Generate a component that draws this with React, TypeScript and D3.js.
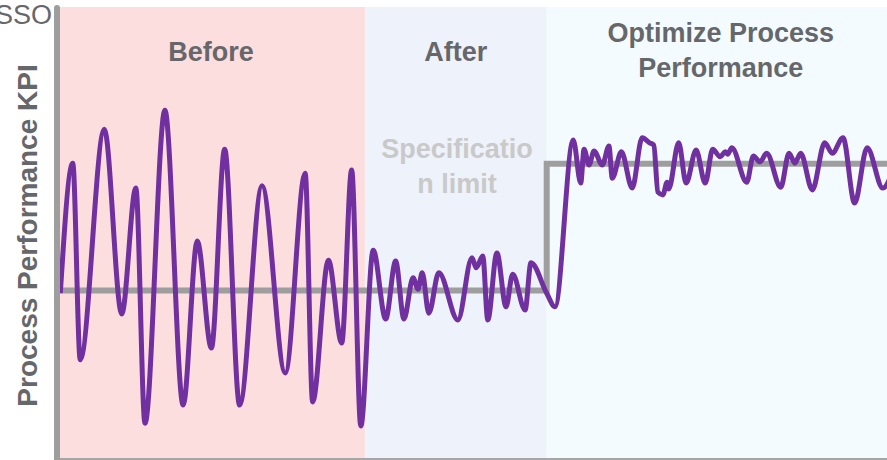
import React from "react";
import * as d3 from "d3";

const W = 887;
const H = 460;

// Phases along the time axis (0..100)
const phaseNames = ["Before", "After", "Optimize Process Performance"];
const phaseStarts = [0, 37.1, 59.0];
const phaseEnds = [37.1, 59.0, 100];
const phaseColors = ["#fddede", "#eef2fa", "#f4fbfe"];

// Specification limit (step)
const specX = [0, 59.0, 59.0, 100];
const specY = [37.2, 37.2, 65.2, 65.2];

// Process KPI series
const kpiT = [
  0.4, 1.9, 2.8, 5.7, 7.8, 9.5, 10.6, 13.0, 15.2, 16.9, 18.6, 20.2, 22.0, 24.7, 27.5, 29.9, 30.8, 32.7, 34.3, 35.5, 36.6,
  38.1, 39.6, 40.8, 41.8, 42.9, 43.5, 44.0, 44.8, 46.0, 48.3, 50.0, 50.5, 51.3, 51.9, 53.0, 54.1, 54.9, 56.4, 57.1, 59.0, 60.0,
  62.2, 63.1, 63.5, 64.1, 64.7, 65.7, 66.5, 66.9, 68.0, 69.3, 70.5, 71.4, 71.9, 72.4, 73.0, 73.5, 73.7, 74.9, 75.8, 77.0,
  78.1, 79.0, 79.9, 80.5, 80.8, 81.3, 83.1, 83.9, 84.7, 85.5, 87.2, 88.2, 88.9, 89.6, 91.0, 92.5, 93.4, 94.7, 96.1, 97.6,
  99.5, 100.6,
];
const kpiV = [
  36.6, 65.3, 21.9, 72.8, 32.0, 59.8, 7.9, 77.0, 11.9, 48.1, 24.5, 68.4, 11.9, 60.3, 19.0, 63.1, 12.6, 43.9, 25.6, 63.8, 7.3,
  46.1, 30.9, 43.7, 30.9, 40.0, 37.5, 41.1, 32.2, 41.1, 30.7, 44.4, 42.2, 44.8, 30.7, 45.5, 33.6, 40.8, 32.9, 43.3, 36.6, 33.6,
  70.4, 60.9, 68.4, 64.9, 68.0, 64.9, 69.1, 62.0, 67.8, 59.8, 70.9, 69.8, 69.3, 58.9, 58.3, 61.1, 59.6, 69.8, 60.9, 68.2,
  60.9, 68.4, 66.7, 67.8, 67.3, 68.7, 61.1, 66.9, 65.6, 67.5, 60.0, 67.5, 65.3, 67.5, 59.4, 69.8, 67.5, 70.9, 56.5, 68.7,
  59.8, 63.0,
];

const yAxisLabel = "Process Performance KPI";
const specLabel = ["Specificatio", "n limit"];
const cornerLabel = "SSO";

export default function App() {
  const x = d3.scaleLinear().domain([0, 100]).range([57, 887]);
  const y = d3.scaleLinear().domain([0, 100]).range([459, 6]);

  const kpi = kpiT.map((t, i) => [t, kpiV[i]] as [number, number]);
  const spec = specX.map((t, i) => [t, specY[i]] as [number, number]);

  const kpiLine = d3
    .line<[number, number]>()
    .x((d) => x(d[0]))
    .y((d) => y(d[1]))
    .curve(d3.curveMonotoneX);
  const specLine = d3
    .line<[number, number]>()
    .x((d) => x(d[0]))
    .y((d) => y(d[1]));

  const font = "'Liberation Sans', Arial, Helvetica, sans-serif";
  const textColor = "#65676b";

  const labelLines = (name: string) =>
    name === "Optimize Process Performance" ? ["Optimize Process", "Performance"] : [name];

  return (
    <svg
      width={W}
      height={H}
      style={{ position: "fixed", left: 0, top: 0, background: "#fff" }}
      fontFamily={font}
    >
      <defs>
        <clipPath id="plot">
          <rect x={x(0)} y={y(100) + 1} width={x(100) - x(0)} height={y(0) - y(100)} />
        </clipPath>
      </defs>
      {phaseNames.map((n, i) => (
        <rect
          key={n}
          x={x(phaseStarts[i])}
          y={y(100) + 1}
          width={x(phaseEnds[i]) - x(phaseStarts[i]) + (i === 2 ? 20 : 0)}
          height={y(0) - y(100) - 1}
          fill={phaseColors[i]}
        />
      ))}
      {phaseNames.map((n, i) => {
        const lines = labelLines(n);
        const cx = (x(phaseStarts[i]) + x(phaseEnds[i])) / 2 + (i === 2 ? 4 : 0);
        const y0 = lines.length > 1 ? 42 : 61;
        return (
          <text
            key={n}
            x={cx}
            textAnchor="middle"
            fontSize={27}
            fontWeight="bold"
            fill={textColor}
          >
            {lines.map((l, j) => (
              <tspan key={j} x={cx} y={y0 + j * 35}>
                {l}
              </tspan>
            ))}
          </text>
        );
      })}
      <text
        x={457}
        textAnchor="middle"
        fontSize={27}
        fontWeight="bold"
        fill="#c9c9c9"
      >
        {specLabel.map((l, j) => (
          <tspan key={j} x={457} y={158 + j * 35}>
            {l}
          </tspan>
        ))}
      </text>
      <path
        d={specLine(spec) || ""}
        fill="none"
        stroke="#9e9e9e"
        strokeWidth={6}
        strokeLinejoin="miter"
        clipPath="url(#plot)"
      />
      <path
        d={kpiLine(kpi) || ""}
        fill="none"
        stroke="#7030a0"
        strokeWidth={5}
        strokeLinejoin="round"
        clipPath="url(#plot)"
      />
      {/* axes */}
      <line x1={x(0)} x2={x(100) + 5} y1={y(0)} y2={y(0)} stroke="#a6a6a6" strokeWidth={2} />
      <line
        x1={x(0)}
        x2={x(0)}
        y1={y(100) + 2}
        y2={y(0) + 2}
        stroke="#9e9e9e"
        strokeWidth={6}
        strokeLinecap="round"
      />
      <text
        transform={`translate(37, ${(y(0) + y(100)) / 2 + 3}) rotate(-90)`}
        textAnchor="middle"
        fontSize={28}
        fontWeight="bold"
        fill={textColor}
      >
        {yAxisLabel}
      </text>
      <text x={52} y={24} textAnchor="end" fontSize={27} fill={textColor}>
        {cornerLabel}
      </text>
    </svg>
  );
}
